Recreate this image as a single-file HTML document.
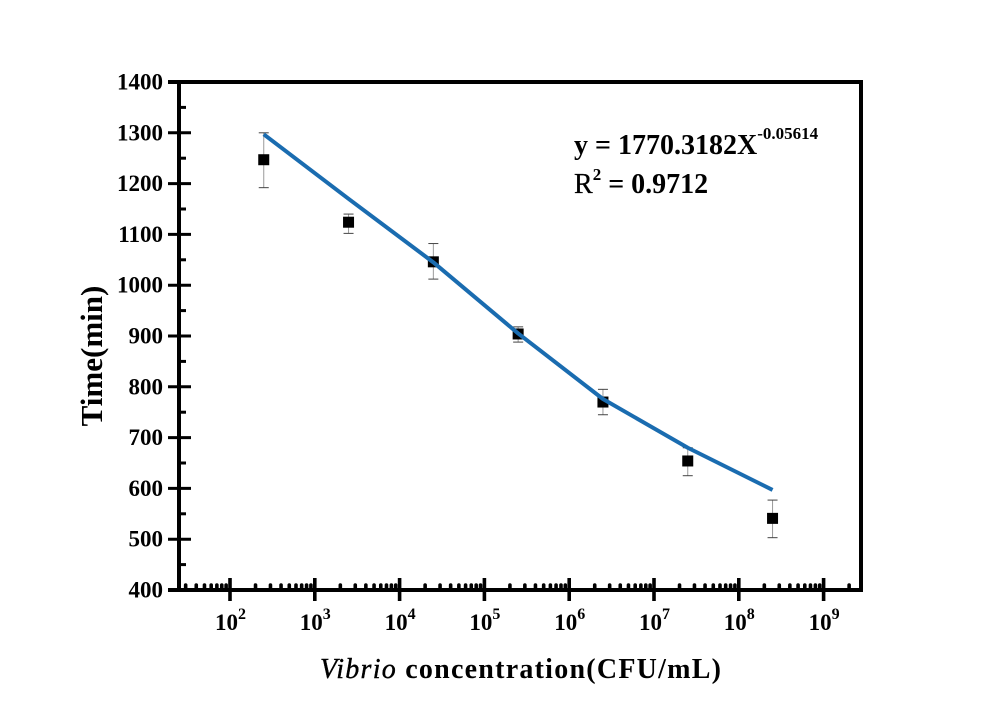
<!DOCTYPE html>
<html>
<head>
<meta charset="utf-8">
<style>
html,body{margin:0;padding:0;background:#fff;}
svg{display:block;}
text{font-family:"Liberation Serif",serif;font-weight:bold;fill:#000;}
</style>
</head>
<body>
<svg id="chart" width="1000" height="707" viewBox="0 0 1000 707" xmlns="http://www.w3.org/2000/svg">
  <g id="ticks"></g>
  <g id="frame">
    <line x1="168" y1="82" x2="863" y2="82" stroke="#000" stroke-width="4"/>
    <line x1="168" y1="590" x2="863" y2="590" stroke="#000" stroke-width="4"/>
    <line x1="179" y1="80" x2="179" y2="592" stroke="#000" stroke-width="4"/>
    <line x1="861" y1="80" x2="861" y2="592" stroke="#000" stroke-width="4"/>
  </g>
  <g id="errors"></g>
  <g id="points"></g>
  <polyline id="fit" fill="none" stroke="#1a6cb0" stroke-width="4" stroke-linejoin="round"/>
  <g id="labels"></g>
  <text transform="translate(102,356) rotate(-90)" text-anchor="middle" font-size="31">Time(min)</text>
  <text x="320" y="678" font-size="28" textLength="401" lengthAdjust="spacing"><tspan font-style="italic" font-weight="normal" stroke="#000" stroke-width="0.4">Vibrio</tspan> concentration(CFU/mL)</text>
  <text x="574" y="154" font-size="28">y = 1770.3182X<tspan font-size="17" dy="-15">-0.05614</tspan></text>
  <text x="574" y="193" font-size="28"><tspan font-weight="normal" stroke="#000" stroke-width="0.3">R</tspan><tspan font-size="17" dy="-13">2</tspan><tspan dy="13"> = 0.9712</tspan></text>
</svg>
<script>
const concentrations = [250, 2500, 25000, 250000, 2500000, 25000000, 250000000];
const timeMeans = [1247, 1124, 1046, 904, 770, 654, 541];
const errorUpper = [1300, 1140, 1082, 918, 795, 680, 577];
const errorLower = [1192, 1102, 1012, 888, 745, 625, 503];
const fitValues = [1297, 1170, 1045, 905, 776, 680, 597];
const yTickLabels = [400, 500, 600, 700, 800, 900, 1000, 1100, 1200, 1300, 1400];
const xDecades = [2, 3, 4, 5, 6, 7, 8, 9];

const NS = 'http://www.w3.org/2000/svg';
function xScale(v) { return 230 + (Math.log10(v) - 2) * 84.8; }
function yScale(v) { return 590 - (v - 400) * 0.508; }
function make(tag, attrs, parent) {
  const el = document.createElementNS(NS, tag);
  for (const k in attrs) el.setAttribute(k, attrs[k]);
  parent.appendChild(el);
  return el;
}
const ticks = document.getElementById('ticks');
const labels = document.getElementById('labels');
const errors = document.getElementById('errors');
const points = document.getElementById('points');

yTickLabels.forEach(function (v, i) {
  const y = yScale(v);
  const t = make('line', {x1: 168, x2: 191, y1: y, y2: y, stroke: '#000', 'stroke-width': 3}, ticks);
  
  
  const lab = make('text', {x: 163, y: y + 7.5, 'text-anchor': 'end', 'font-size': 23}, labels);
  
  
  lab.textContent = v;
  if (i < yTickLabels.length - 1) {
    const ym = yScale(v + 50);
    const m = make('line', {x1: 179, x2: 186, y1: ym, y2: ym, stroke: '#000', 'stroke-width': 3}, ticks);
    
    
  }
});

xDecades.forEach(function (d) {
  const x = xScale(Math.pow(10, d));
  const t = make('line', {x1: x, x2: x, y1: 578, y2: 601, stroke: '#000', 'stroke-width': 3.6}, ticks);
  
  
  const lab = make('text', {x: x - 15, y: 630, 'font-size': 23}, labels);
  
  
  lab.appendChild(document.createTextNode('10'));
  const sup = make('tspan', {dy: -11, 'font-size': 16}, lab);
  sup.textContent = d;
});

for (let d = 1; d <= 9; d++) {
  for (let k = 2; k <= 9; k++) {
    const val = k * Math.pow(10, d);
    const x = xScale(val);
    if (x < 181 || x > 859) continue;
    const m = make('line', {x1: x, x2: x, y1: 585, y2: 590, stroke: '#000', 'stroke-width': 3.6, 'stroke-linecap': 'round'}, ticks);
    
    
  }
}

concentrations.forEach(function (c, i) {
  const x = xScale(c);
  const yu = yScale(errorUpper[i]);
  const yl = yScale(errorLower[i]);
  const ym = yScale(timeMeans[i]);
  const stem = make('line', {x1: x, x2: x, y1: yu, y2: yl, stroke: '#9a9a9a', 'stroke-width': 1}, errors);
  
  
  const capU = make('line', {x1: x - 5, x2: x + 5, y1: yu, y2: yu, stroke: '#444', 'stroke-width': 1}, errors);
  
  
  const capL = make('line', {x1: x - 5, x2: x + 5, y1: yl, y2: yl, stroke: '#444', 'stroke-width': 1}, errors);
  
  
  const pt = make('rect', {x: x - 5.5, y: ym - 5.5, width: 11, height: 11, fill: '#000'}, points);
  
  
});

document.getElementById('fit').setAttribute('points', concentrations.map(function (c, i) {
  return xScale(c) + ',' + yScale(fitValues[i]);
}).join(' '));
</script>
</body>
</html>
